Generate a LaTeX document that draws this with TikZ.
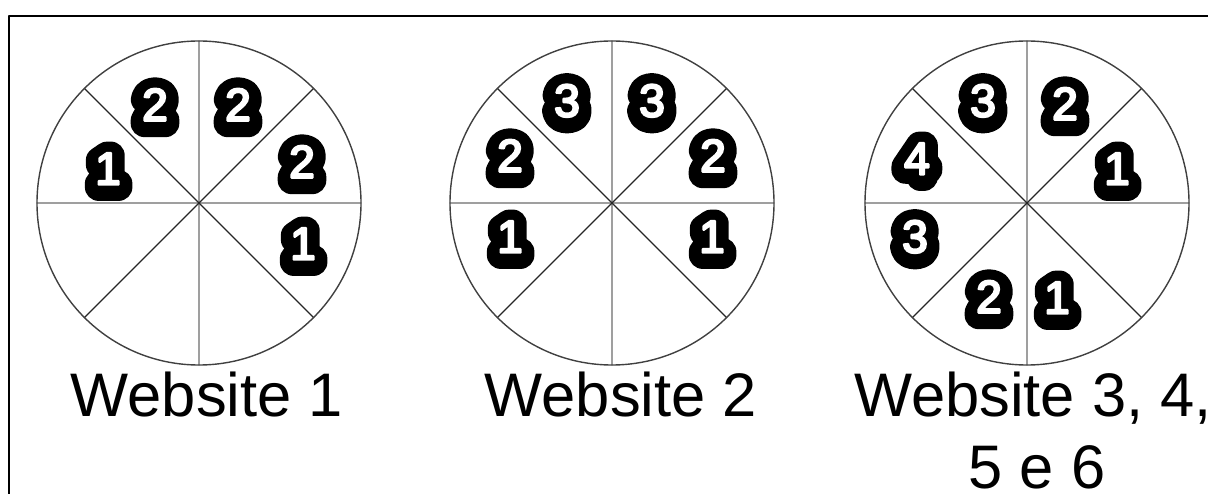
\documentclass[tikz,border=0pt]{standalone}
\usepackage{fontspec}
\setmainfont{Liberation Sans}
\newfontfamily\blobfont[FakeBold=60]{Liberation Sans}
\newfontfamily\digitfont[FakeBold=5]{Liberation Sans}
\usetikzlibrary{calc}

% white digit on a black blob (the blob is the same digit, stroked wide)
\newcommand{\blobdigit}[1]{\rlap{\raisebox{-2.5pt}{\blobfont\color{black}#1}}#1}

\begin{document}
\begin{tikzpicture}[x=1pt, y=-1pt, line cap=round, line join=round,
  spoke/.style={gray!75, line width=1.3pt},
  diag/.style={black!85, line width=1.3pt},
  rim/.style={black!75, line width=1.4pt},
  digit/.style={font=\digitfont\fontsize{46}{46}\selectfont, text=white, inner sep=0pt},
  lbl/.style={font=\fontsize{61.5}{72}\selectfont, inner sep=0pt, anchor=base}]

% ----------------------------
% PARAMETERS
% ----------------------------
\def\R{162}     % wheel radius
\def\Cy{203}    % wheel centre height

\clip (0,0) rectangle (1208,494);

% frame (right and bottom sides fall off the page)
\draw[line width=2pt] (9,16) rectangle (1240,530);

% ----------------------------
% WHEELS
% ----------------------------
\foreach \cx/\nm in {199/wA, 612/wB, 1027/wC} {
  \coordinate (\nm) at (\cx,\Cy);
  \draw[spoke] ($(\nm)+(0,-\R)$) -- ($(\nm)+(0,\R)$);
  \draw[spoke] ($(\nm)+(-\R,0)$) -- ($(\nm)+(\R,0)$);
  \draw[diag] ($(\nm)+(45:\R)$) -- ($(\nm)+(225:\R)$);
  \draw[diag] ($(\nm)+(135:\R)$) -- ($(\nm)+(315:\R)$);
  \draw[rim] (\nm) circle[radius=\R pt];
}

% ----------------------------
% DIGITS
% ----------------------------
% Website 1
\node[digit] (a1) at (108,170) {\blobdigit{1}};
\node[digit] (a2) at (155,106) {\blobdigit{2}};
\node[digit] (a3) at (238,106) {\blobdigit{2}};
\node[digit] (a4) at (302,163) {\blobdigit{2}};
\node[digit] (a5) at (303,245) {\blobdigit{1}};

% Website 2
\node[digit] (b1) at (567,102) {\blobdigit{3}};
\node[digit] (b2) at (652,102) {\blobdigit{3}};
\node[digit] (b3) at (510,157) {\blobdigit{2}};
\node[digit] (b4) at (713,157) {\blobdigit{2}};
\node[digit] (b5) at (510,238) {\blobdigit{1}};
\node[digit] (b6) at (712,238) {\blobdigit{1}};

% Website 3, 4, 5 e 6
\node[digit] (c1) at (983,102) {\blobdigit{3}};
\node[digit] (c2) at (1065,105) {\blobdigit{2}};
\node[digit] (c3) at (1117,170) {\blobdigit{1}};
\node[digit] (c4) at (917,160) {\blobdigit{4}};
\node[digit] (c5) at (915,238) {\blobdigit{3}};
\node[digit] (c6) at (989,298) {\blobdigit{2}};
\node[digit] (c7) at (1057,299) {\blobdigit{1}};

% ----------------------------
% LABELS
% ----------------------------
\node[lbl] (web1) at (207,417) {Website 1};
\node[lbl] (web2) at (621,417) {Website 2};
\node[lbl] (web3) at (1033,417) {Website 3, 4,};
\node[lbl] (web4) at (1037,488) {5 e 6};

\end{tikzpicture}
\end{document}
